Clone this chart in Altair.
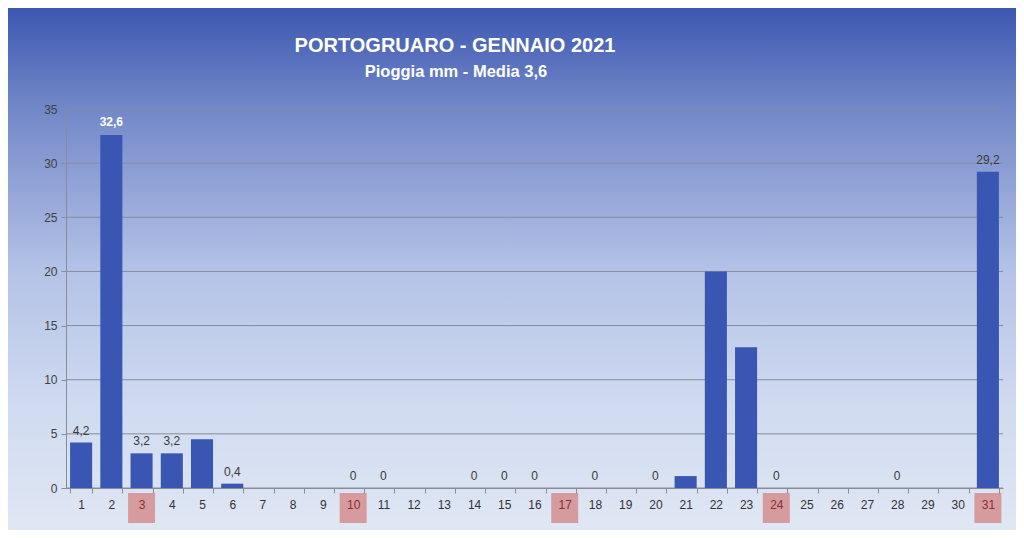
import altair as alt
import pandas as pd

# ---- data ----
days = list(range(1, 32))
rain = [4.2, 32.6, 3.2, 3.2, 4.5, 0.4, None, None, None, 0, 0, None, None, 0, 0, 0,
        None, 0, None, 0, 1.1, 20, 13, 0, None, None, None, 0, None, None, 29.2]
labels = ["4,2", "32,6", "3,2", "3,2", "", "0,4", "", "", "", "0", "0", "", "", "0", "0", "0",
          "", "0", "", "0", "", "", "", "0", "", "", "", "0", "", "", "29,2"]
sundays = [3, 10, 17, 24, 31]
y_ticks = [0, 5, 10, 15, 20, 25, 30, 35]
TITLE = "PORTOGRUARO - GENNAIO 2021"
SUBTITLE = "Pioggia mm - Media 3,6"

df = pd.DataFrame({
    "day": days,
    "rain": rain,
    "label": labels,
    "sunday": [d in sundays for d in days],
})

W, H = 937, 379
FONT = "Liberation Sans"
GRAY = "#868c99"

xscale = alt.Scale(domain=days, paddingInner=0.27, paddingOuter=0.135)
yscale = alt.Scale(domain=[0, 35], nice=False)

sun_test = "indexof([" + ",".join(str(s) for s in sundays) + "], datum.value) >= 0"
xaxis = alt.Axis(title=None, labelAngle=0, tickBand="extent", ticks=True, tickSize=5,
                 tickColor=GRAY, domainColor=GRAY, labelFont=FONT, labelFontSize=12,
                 labelColor={"condition": {"test": sun_test, "value": "#8c2f33"}, "value": "#333333"},
                 labelPadding=6, grid=False, zindex=1)
yaxis = alt.Axis(title=None, values=y_ticks, grid=False, tickSize=5, tickColor=GRAY,
                 domainColor=GRAY, labelFont=FONT, labelFontSize=12, labelColor="#404040",
                 labelPadding=4, zindex=1)

xenc = alt.X("day:O", scale=xscale, axis=xaxis)
yenc = alt.Y("rain:Q", scale=yscale, axis=yaxis)

bg = alt.Chart(pd.DataFrame({"a": [0]})).mark_rect(
    fill=alt.Gradient(
        gradient="linear",
        stops=[
            alt.GradientStop(color="#3b57b1", offset=0),
            alt.GradientStop(color="#7085c7", offset=0.18),
            alt.GradientStop(color="#b3c2e6", offset=0.5),
            alt.GradientStop(color="#cfdaf0", offset=0.75),
            alt.GradientStop(color="#e0e7f4", offset=1),
        ],
        x1=0, x2=0, y1=0, y2=1,
    )
).encode(x=alt.value(-58), x2=alt.value(950), y=alt.value(-101), y2=alt.value(421))

grid = alt.Chart(pd.DataFrame({"rain": y_ticks})).mark_rule(color=GRAY, strokeWidth=1).encode(
    y=yenc, x=alt.value(0), x2=alt.value(W)
)

pink = alt.Chart(df).transform_filter("datum.sunday").mark_bar(width=27, color="#d59b9f").encode(
    x=xenc, y=alt.value(384), y2=alt.value(414)
)

bars = alt.Chart(df).transform_filter("isValid(datum.rain)").mark_bar(color="#3a56b3").encode(
    x=xenc, y=yenc
)

labs = alt.Chart(df).transform_filter("datum.label != '' && datum.day != 2").mark_text(
    baseline="bottom", dy=-5, fontSize=12, font=FONT, color="#3b3b3b"
).encode(x=xenc, y=yenc, text="label:N")

lab2 = alt.Chart(df).transform_filter("datum.day == 2").mark_text(
    baseline="bottom", dy=-6, fontSize=12, font=FONT, color="white", fontWeight="bold"
).encode(x=xenc, y=yenc, text="label:N")

title = alt.Chart(pd.DataFrame({"t": [TITLE]})).mark_text(
    fontSize=20, fontWeight="bold", color="white", font=FONT, align="center", baseline="middle"
).encode(text="t:N", x=alt.value(389), y=alt.value(-63))

sub = alt.Chart(pd.DataFrame({"t": [SUBTITLE]})).mark_text(
    fontSize=16.5, fontWeight="bold", color="white", font=FONT, align="center", baseline="middle"
).encode(text="t:N", x=alt.value(390), y=alt.value(-37))

chart = alt.layer(bg, grid, pink, bars, labs, lab2, title, sub).properties(
    width=W, height=H, padding=0
).configure_view(strokeWidth=0).configure(background="#ffffff")

chart.save("out.html", embed_options={"renderer": "svg", "actions": False})
